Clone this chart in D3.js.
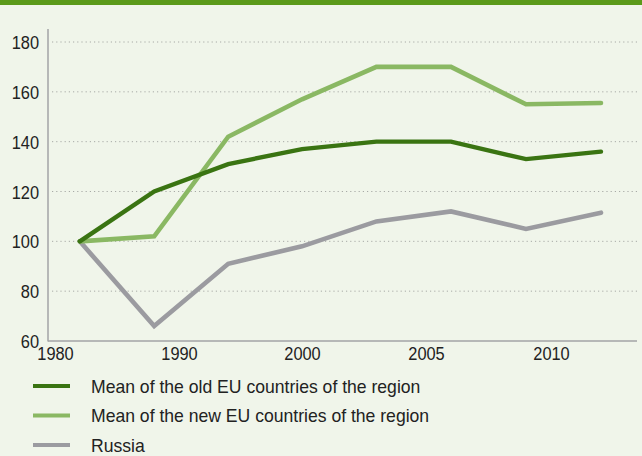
<!DOCTYPE html>
<html><head><meta charset="utf-8">
<script src="https://cdn.jsdelivr.net/npm/d3@7"></script>
<style>
html,body{margin:0;padding:0;background:#f0f5ea;}
svg{display:block;}
text{font-family:"Liberation Sans",Arial,Helvetica,sans-serif;fill:#222;}
</style></head>
<body><svg id="c" width="642" height="456"></svg>
<script>
const years = [1982, 1988, 1994, 2000, 2003, 2006, 2009, 2012];
const oldEU = [100, 120, 131, 137, 140, 140, 133, 136];
const newEU = [100, 102, 142, 157, 170, 170, 155, 155.5];
const russia = [100, 66, 91, 98, 108, 112, 105, 111.5];
const xTicks = [1980, 1990, 2000, 2005, 2010];
const yTicks = [60, 80, 100, 120, 140, 160, 180];
const seriesNames = ["Mean of the old EU countries of the region", "Mean of the new EU countries of the region", "Russia"];

const svg = d3.select("#c");
svg.append("rect").attr("width",642).attr("height",456).attr("fill","#f0f5ea");
svg.append("rect").attr("width",642).attr("height",5).attr("fill","#5b9a1a");

// x axis is piecewise: tick labels equally spaced
const x = d3.scaleLinear().domain([1980, 1990, 2000, 2005, 2010]).range([55, 179, 302, 426, 551]);
const y = d3.scaleLinear().domain([60, 180]).range([341, 42]);
const xLeft = 48, xRight = 638;

// gridlines
svg.append("g").selectAll("line").data(yTicks.filter(d=>d>60)).join("line")
  .attr("x1", xLeft+4).attr("x2", xRight).attr("y1", d=>y(d)).attr("y2", d=>y(d))
  .attr("stroke","#a8aaa6").attr("stroke-width",1).attr("stroke-dasharray","1.2,3");

// y axis
const yAxis = d3.axisLeft(y).tickValues(yTicks).tickSize(0).tickPadding(9);
const gy = svg.append("g").attr("transform",`translate(${xLeft},0)`).call(yAxis);
gy.select(".domain").remove();
gy.selectAll("text").attr("font-size",16.4).style("font-family","Liberation Sans, Arial, sans-serif")
  .attr("fill","#222").attr("dy","0.36em").attr("transform","scale(1,1.1)");
svg.append("line").attr("x1",xLeft).attr("x2",xLeft).attr("y1",29).attr("y2",341.5).attr("stroke","#a3a3a6").attr("stroke-width",1.5);

// x axis
const xAxis = d3.axisBottom(x).tickValues(xTicks).tickFormat(d3.format("d")).tickSize(0).tickPadding(6);
const gx = svg.append("g").attr("transform",`translate(0,341)`).call(xAxis);
gx.select(".domain").remove();
gx.selectAll("text").attr("font-size",16.4).style("font-family","Liberation Sans, Arial, sans-serif")
  .attr("fill","#222").attr("transform","scale(1,1.1)");
svg.append("line").attr("x1",xLeft).attr("x2",xRight-1).attr("y1",341).attr("y2",341).attr("stroke","#a3a3a6").attr("stroke-width",1.5);

const colors = ["#3a7412", "#8ab863", "#9b9ba0"];
const data = [oldEU, newEU, russia];
const line = d3.line().x((d,i)=>x(years[i])).y(d=>y(d));
[2,1,0].forEach(k=>{
  svg.append("path").datum(data[k]).attr("d", line).attr("fill","none")
    .attr("stroke", colors[k]).attr("stroke-width", k===0?4.4:4.6)
    .attr("stroke-linejoin","miter").attr("stroke-linecap","round");
});

// legend
const legY = [386, 415.5, 445];
const lg = svg.append("g");
seriesNames.forEach((n,i)=>{
  lg.append("line").attr("x1",33).attr("x2",70).attr("y1",legY[i]).attr("y2",legY[i])
    .attr("stroke",colors[i]).attr("stroke-width",4);
  lg.append("g").attr("transform",`translate(91,${legY[i]}) scale(1,1.08)`)
    .append("text").attr("x",0).attr("y",0).attr("dy","0.36em").attr("font-size",17.6).text(n);
});
</script></body></html>
